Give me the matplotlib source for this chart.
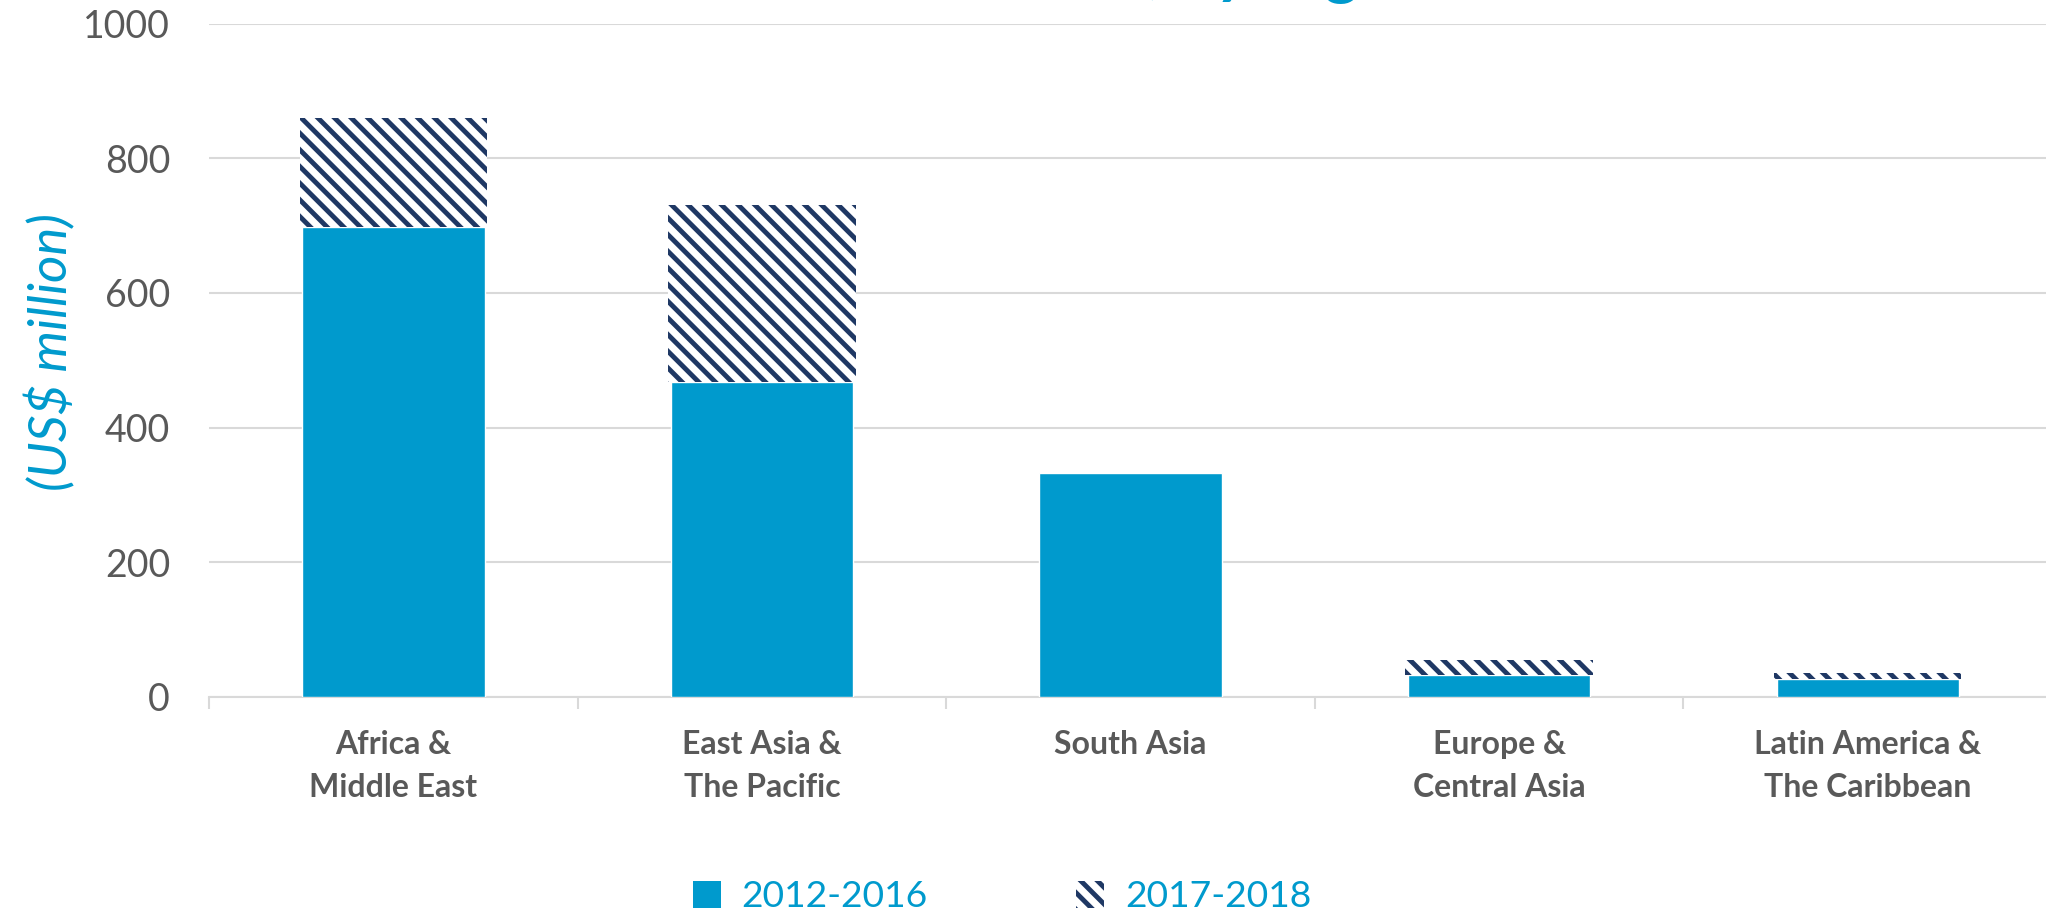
import matplotlib.pyplot as plt
from matplotlib.patches import Patch
import numpy as np

# data
regions = ["Africa &\nMiddle East", "East Asia &\nThe Pacific", "South Asia",
           "Europe &\nCentral Asia", "Latin America &\nThe Caribbean"]
v_2012_2016 = [698, 468, 333, 33, 27]
v_2017_2018 = [162, 263, 0, 22, 8]
yticks = [0, 200, 400, 600, 800, 1000]
series_names = ["2012-2016", "2017-2018"]

blue = "#009ACD"
navy = "#1F3864"
grey = "#595959"
grid = "#D9D9D9"

plt.rcParams['font.family'] = ['Lato', 'DejaVu Sans']
plt.rcParams['hatch.linewidth'] = 3.5

fig = plt.figure(figsize=(20.46, 9.16), dpi=100)
ax = fig.add_axes([0.10215, 0.2391, 0.9008, 0.7352])

x = np.arange(len(regions))
ax.bar(x, v_2012_2016, width=0.495, color=blue, edgecolor="white", linewidth=1, zorder=3)
ax.bar(x, v_2017_2018, width=0.508, bottom=v_2012_2016, facecolor="white",
       edgecolor=navy, hatch="\\\\", linewidth=0, zorder=3)

ax.set_xlim(-0.5, len(regions) - 0.5)
ax.set_ylim(0, 1000)
ax.set_yticks(yticks)
ax.set_yticklabels([str(t) for t in yticks])
ax.tick_params(axis='y', length=0, pad=28, labelsize=27, labelcolor=grey)
ax.grid(axis='y', color=grid, linewidth=1.5, zorder=0)

ax.set_xticks(x)
ax.set_xticklabels(regions, fontweight='bold', linespacing=1.55)
ax.tick_params(axis='x', which='major', length=0, pad=24, labelsize=23, labelcolor=grey)
ax.set_xticks(np.arange(len(regions) + 1) - 0.5, minor=True)
ax.tick_params(axis='x', which='minor', length=8.5, width=1.5, color=grid)

for s in ['left', 'right', 'top']:
    ax.spines[s].set_visible(False)
ax.spines['bottom'].set_color(grid)
ax.spines['bottom'].set_linewidth(1.5)

ax.set_ylabel("(US$ million)", fontsize=38, style='italic', color=blue)
ax.yaxis.set_label_coords(-0.0722, 0.513)

# title (cut off at top of the picture)
fig.text(0.5606, 1.0095, "Total investment", ha='right', va='baseline',
         fontsize=47, fontweight='bold', color=blue)
fig.text(0.5606, 1.0095, ", by region", ha='left', va='baseline',
         fontsize=47, fontweight='bold', color=blue)

handles = [Patch(facecolor=blue, edgecolor='none'),
           Patch(facecolor='white', edgecolor=navy, hatch="\\\\", linewidth=0)]
leg = fig.legend(handles, series_names, loc='center', bbox_to_anchor=(0.4897, 0.021),
                 ncol=2, frameon=False, fontsize=26.8, handlelength=0.75, handleheight=0.75,
                 handletextpad=0.55, columnspacing=4.0, borderpad=0)
for t in leg.get_texts():
    t.set_color(blue)

fig.savefig("out.png", dpi=100)
